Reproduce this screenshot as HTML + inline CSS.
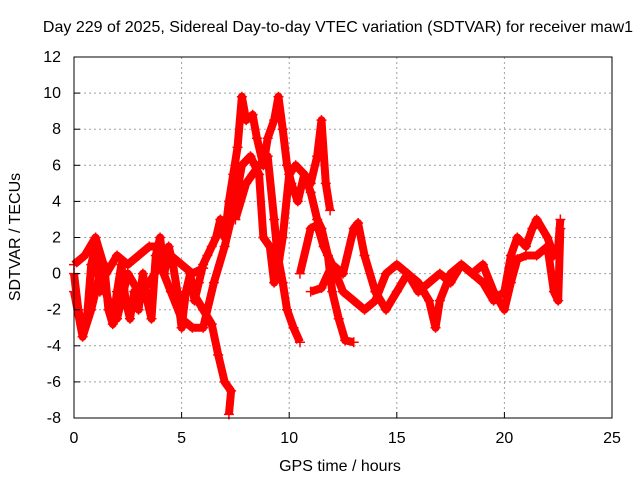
<!DOCTYPE html>
<html><head><meta charset="utf-8"><style>
body{margin:0;background:#fff}
svg{font-family:"Liberation Sans",sans-serif;font-size:16px}
</style></head><body>
<svg id="chart" width="640" height="480">
<text x="338" y="32" text-anchor="middle">Day 229 of 2025, Sidereal Day-to-day VTEC variation (SDTVAR) for receiver maw1</text>
<g id="grid"></g>
<g id="series"></g>
<rect x="74" y="57" width="538" height="361" fill="none" stroke="#000"/>
<g id="ticks"></g>
<text x="340" y="471" text-anchor="middle">GPS time / hours</text>
<text transform="translate(20,237) rotate(-90)" text-anchor="middle">SDTVAR / TECUs</text>
</svg>
<script>
const xTicks=[0,5,10,15,20,25];
const yTicks=[-8,-6,-4,-2,0,2,4,6,8,10,12];
const trackA=[[0,0],[0.2,-2],[0.4,-3],[0.6,-2.5],[0.8,0.5],[1,1.5],[1.2,-1],[1.4,0.5],[1.6,-2],[1.8,-2.8],[2,-1],[2.2,0.5],[2.4,-1.5],[2.6,-2.5],[2.8,-1],[3,-2],[3.2,0],[3.4,-1.5],[3.6,-2.5],[3.8,1],[4,2],[4.2,0],[4.4,1.5],[4.6,0.5],[4.8,-1],[5,-3],[5.2,-1],[5.4,0],[5.6,-1.5],[5.8,-0.5],[6,0.5],[6.2,1],[6.4,1.5],[6.6,2],[6.8,3],[7,2],[7.2,4],[7.4,5.5],[7.6,7],[7.8,9.8],[8,8.5],[8.3,8.8],[8.5,7.5],[8.8,6],[9,7.5],[9.3,8.5],[9.5,9.8],[9.7,8],[9.9,6],[10.1,5],[10.4,4],[10.7,5.5],[11,5],[11.3,6.5],[11.5,8.5],[11.7,5],[11.9,3.5]];
const trackB=[[5.5,-1],[6,-2],[6.4,-2.8],[6.7,-4.5],[7,-6],[7.3,-6.5],[7.2,-7.8]];
const trackC=[[0,-1],[0.4,-3.5],[0.8,-2],[1.2,0],[1.6,-1.5],[2,-2.5],[2.5,0],[3,-1],[3.5,-0.5],[4,0.5],[4.5,-1],[5,-2.5],[5.5,-3],[6,-3],[6.5,-0.5],[7,1.5],[7.5,4],[7.8,6],[8.2,6.5],[8.6,5.5],[8.8,2],[9.1,1.5],[9.3,-0.5],[9.5,0.8],[9.7,-0.5],[9.9,-2],[10.2,-3],[10.5,-3.8]];
const trackD=[[7.5,3],[8,5],[8.3,5.5],[8.6,6],[9,6.5],[9.3,3],[9.5,0.5],[9.7,2],[10,5.5],[10.3,6],[10.7,5.5],[11,4.5],[11.3,3],[11.5,2.5],[11.8,1],[12,-1],[12.3,-2.5],[12.6,-3.7],[13,-3.8]];
const trackE=[[10.5,0],[11,2.5],[11.3,2.7],[11.6,1.5],[12,0.5],[12.5,0],[13,2.5],[13.2,2.8],[13.5,1],[14,-1],[14.5,-2],[15,-1],[15.5,0],[16,-0.5],[16.5,-1.5],[16.8,-3],[17,-1.5],[17.5,0],[18,0.5],[18.5,0],[19,-0.5],[19.5,-1.5],[20,-1],[20.3,1],[20.6,2],[21,1.5],[21.3,2.5],[21.5,3],[22,2],[22.3,1],[22.5,1.5],[22.6,3]];
const trackF=[[11,-1],[11.5,-0.8],[12,0.5],[12.5,-1],[13,-1.5],[13.5,-2],[14,-1.5],[14.5,0],[15,0.5],[15.5,0],[16,-1],[16.5,-0.5],[17,0],[17.5,-0.5],[18,0.5],[18.5,0],[19,0.5],[19.5,-1],[20,-2],[20.3,-0.5],[20.6,0.8],[21,1],[21.5,1],[22,1.5],[22.3,-1],[22.5,-1.5],[22.6,2.5]];
const trackG=[[0,0.5],[0.5,1],[1,2],[1.5,0],[2,1],[2.5,0.5],[3,1],[3.5,1.5],[4,1.5],[4.5,1],[5,0.5],[5.5,0],[6,0.3]];
const tracks=[trackA,trackB,trackC,trackD,trackE,trackF,trackG];
const X=v=>74+v*538/25, Y=v=>418-(v+8)*361/20;
const NS="http://www.w3.org/2000/svg";
function mk(t,a,p){const e=document.createElementNS(NS,t);for(const k in a)e.setAttribute(k,a[k]);p.appendChild(e);return e;}
const grid=document.getElementById('grid'),tk=document.getElementById('ticks'),sr=document.getElementById('series');
xTicks.forEach(v=>{
 if(v>0&&v<25){const l=mk('line',{x1:X(v),x2:X(v),y1:57,y2:418,stroke:'#a0a0a0','stroke-dasharray':'2,3'},grid);
 
 }
 mk('line',{x1:X(v),x2:X(v),y1:418,y2:412,stroke:'#000'},tk);
 const t=mk('text',{x:X(v),y:443,'text-anchor':'middle'},tk);t.textContent=v;
 
 
});
yTicks.forEach(v=>{
 if(v>-8&&v<12){const l=mk('line',{x1:74,x2:612,y1:Y(v),y2:Y(v),stroke:'#a0a0a0','stroke-dasharray':'2,3'},grid);
 
 }
 mk('line',{x1:74,x2:80,y1:Y(v),y2:Y(v),stroke:'#000'},tk);
 const t=mk('text',{x:61,y:Y(v)+5,'text-anchor':'end'},tk);t.textContent=v;
 
 
});
tracks.forEach(tr=>{
 const pl=mk('polyline',{points:tr.map(p=>X(p[0])+','+Y(p[1])).join(' '),fill:'none',stroke:'#ff0000','stroke-width':8,'stroke-linejoin':'round'},sr);
 
 
 tr.forEach(p=>{
  const m=mk('path',{d:`M${X(p[0])-5},${Y(p[1])}h10M${X(p[0])},${Y(p[1])-5}v10`,stroke:'#ff0000','stroke-width':1.5},sr);
  
  
 });
});
</script>
</body></html>
